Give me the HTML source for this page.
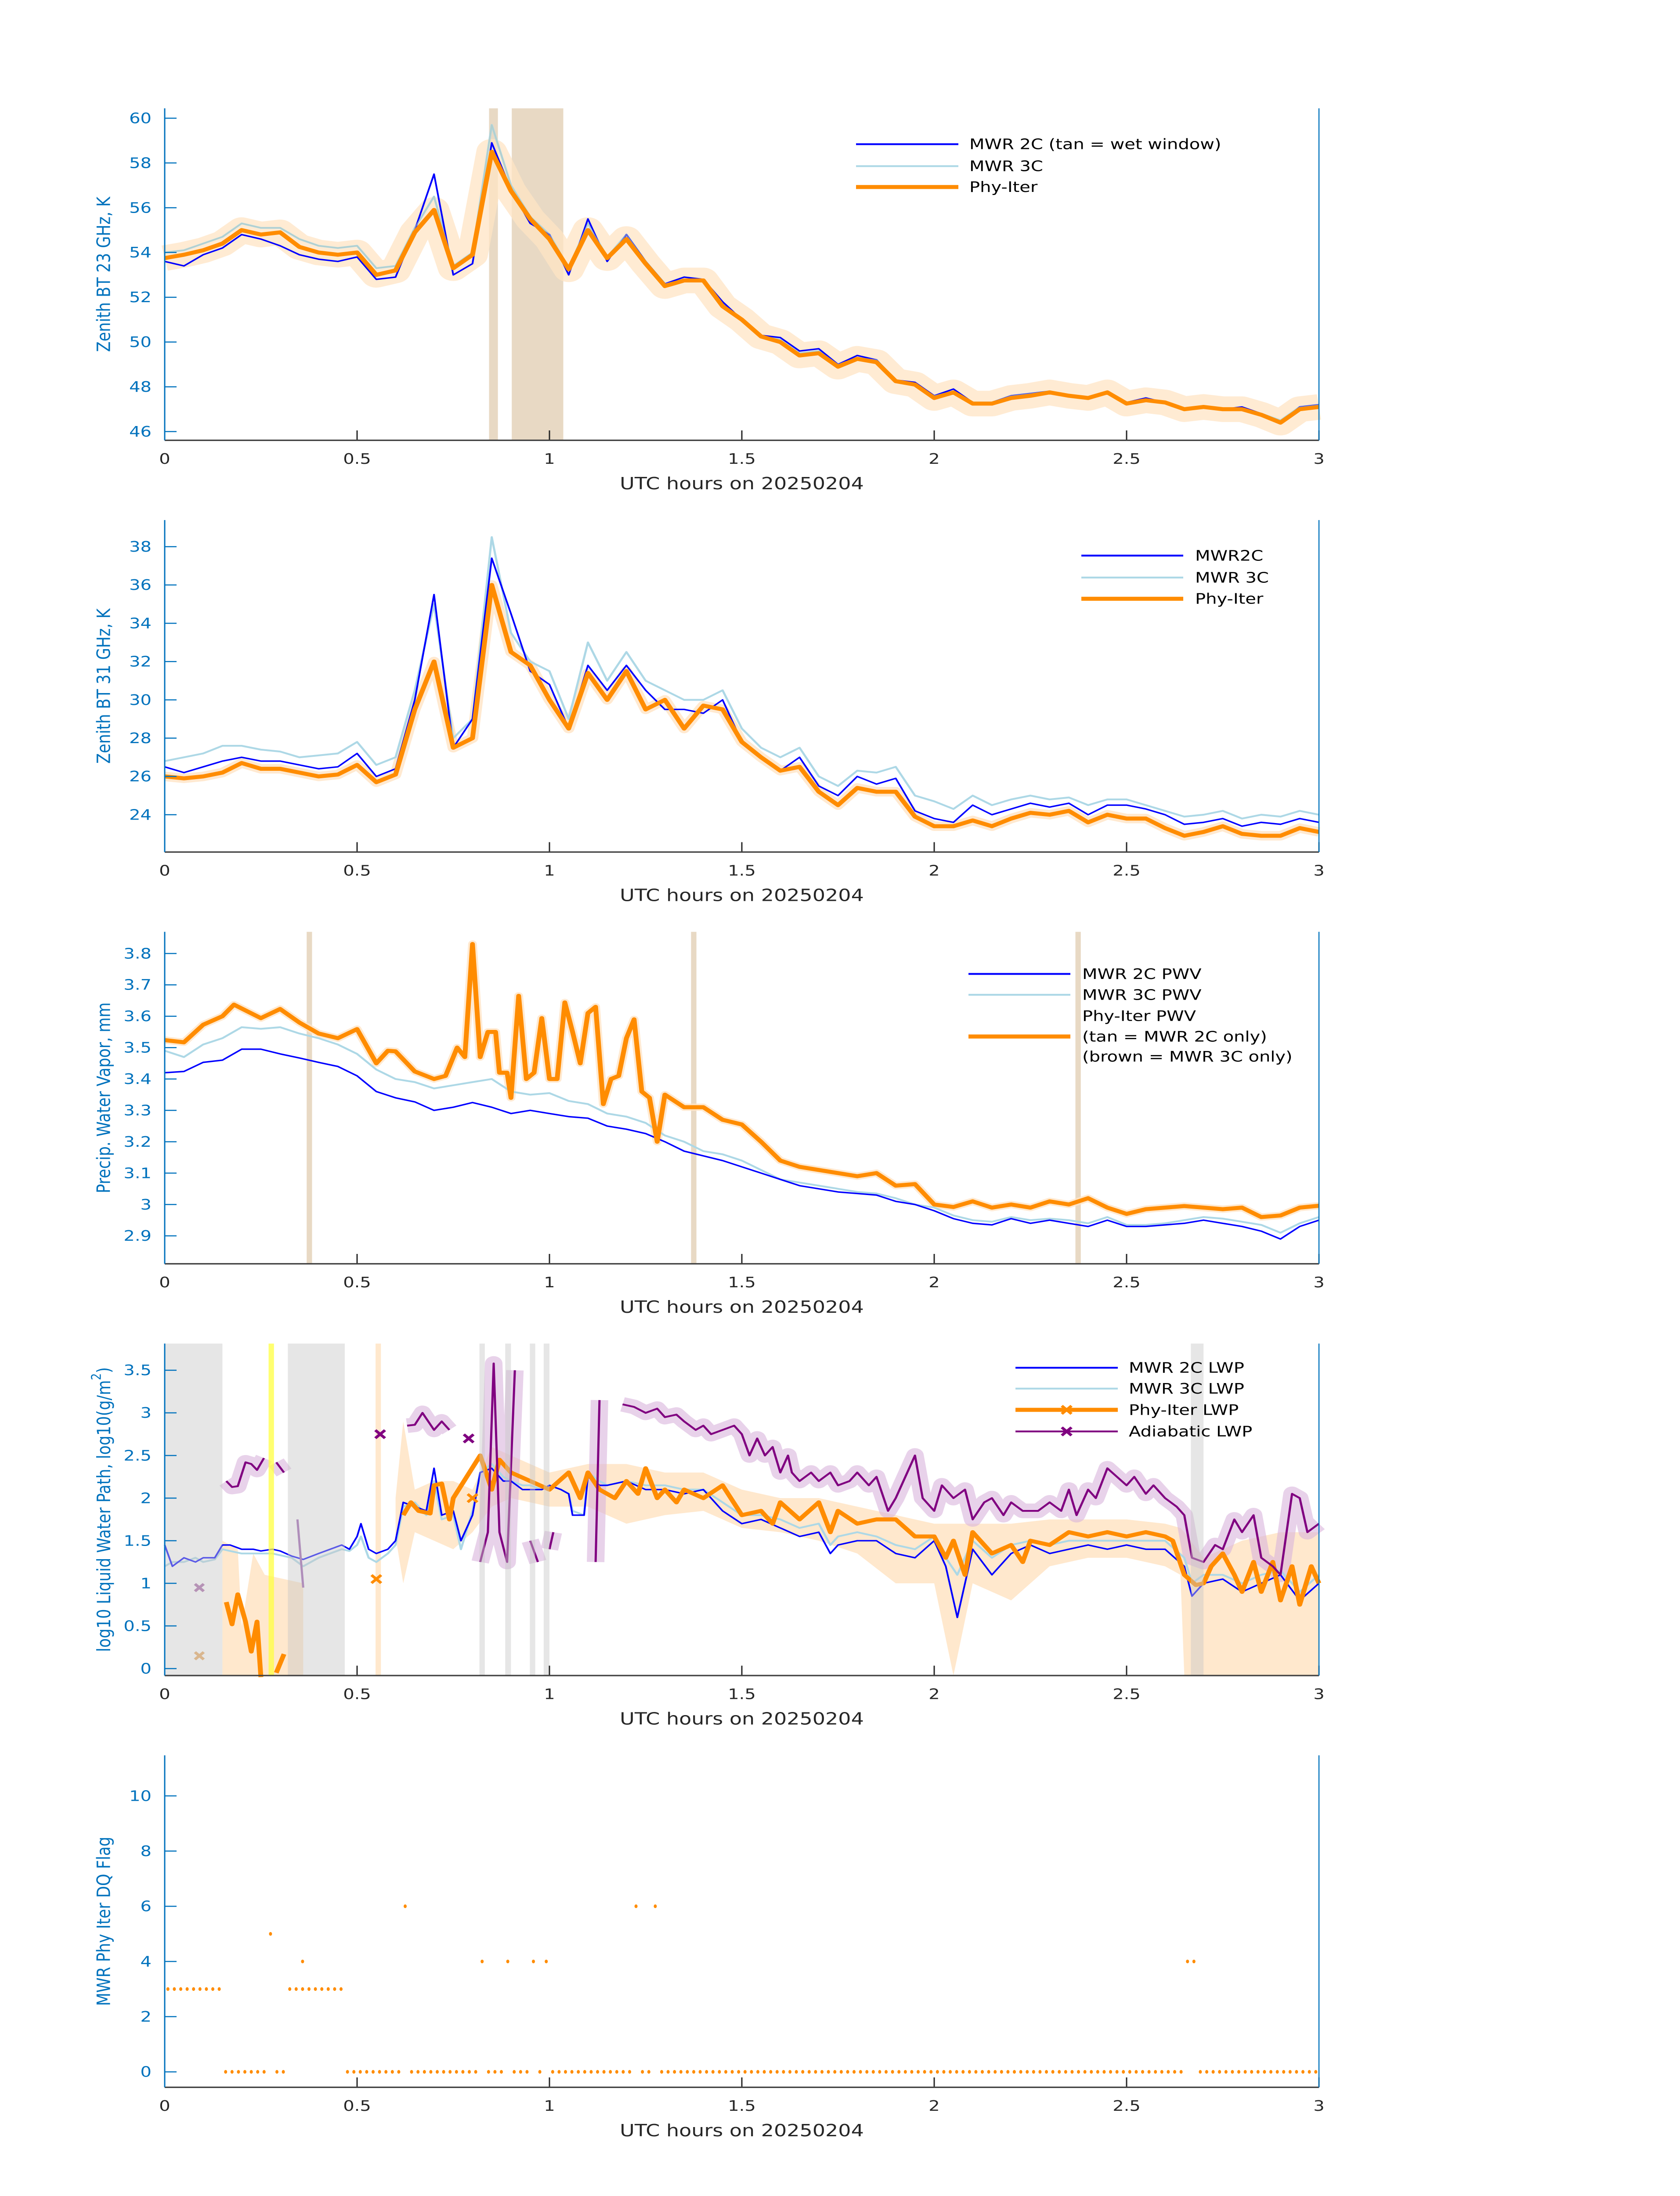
<!DOCTYPE html>
<html><head><meta charset="utf-8">
<style>
html,body{margin:0;padding:0;background:#fff;width:100vw;height:100vh;overflow:hidden;}
svg{display:block;position:absolute;left:0;top:0;width:100vw;height:100vh;}
text{font-family:"DejaVu Sans","Liberation Sans",sans-serif;}
</style></head>
<body>
<svg id="fig" xmlns="http://www.w3.org/2000/svg" viewBox="0 0 3825 6000" preserveAspectRatio="none">
<rect x="0" y="0" width="3825" height="6000" fill="#fff"/>
</svg>
<script>
// ---------- shared x ----------
const xTicks = [0, 0.5, 1, 1.5, 2, 2.5, 3];
const xTickLabels = ["0", "0.5", "1", "1.5", "2", "2.5", "3"];
const t05 = [0,0.05,0.1,0.15,0.2,0.25,0.3,0.35,0.4,0.45,0.5,0.55,0.6,0.65,0.7,0.75,0.8,0.85,0.9,0.95,1,1.05,1.1,1.15,1.2,1.25,1.3,1.35,1.4,1.45,1.5,1.55,1.6,1.65,1.7,1.75,1.8,1.85,1.9,1.95,2,2.05,2.1,2.15,2.2,2.25,2.3,2.35,2.4,2.45,2.5,2.55,2.6,2.65,2.7,2.75,2.8,2.85,2.9,2.95,3];

// ---------- panel 1: BT 23 GHz ----------
const p1Ticks = [46,48,50,52,54,56,58,60];
const p1Blue = [53.6,53.4,53.9,54.2,54.8,54.6,54.3,53.9,53.7,53.6,53.8,52.8,52.9,55.0,57.5,53.0,53.5,58.9,56.8,55.3,54.8,53.0,55.5,53.6,54.8,53.6,52.6,52.9,52.8,51.8,51.0,50.3,50.2,49.6,49.7,49.0,49.4,49.2,48.3,48.2,47.6,47.9,47.3,47.3,47.6,47.7,47.8,47.6,47.5,47.8,47.3,47.5,47.3,47.0,47.1,47.0,47.1,46.8,46.4,47.1,47.2];
const p13C = [54.0,54.1,54.4,54.7,55.3,55.1,55.1,54.6,54.3,54.2,54.3,53.3,53.4,55.1,56.5,53.4,54.0,59.7,57.0,55.6,54.8,53.3,55.3,53.8,54.8,53.6,52.6,52.8,52.8,51.7,51.0,50.3,50.1,49.5,49.6,49.0,49.3,49.2,48.3,48.1,47.6,47.8,47.3,47.3,47.6,47.7,47.8,47.6,47.5,47.7,47.3,47.4,47.3,47.0,47.1,47.0,47.0,46.8,46.5,47.1,47.2];
const p1Phy = [53.75,53.9,54.1,54.4,55.0,54.8,54.9,54.25,54.0,53.9,54.0,53.0,53.2,54.9,55.9,53.3,53.9,58.5,56.75,55.5,54.6,53.25,55.0,53.75,54.6,53.5,52.5,52.75,52.75,51.6,51.0,50.25,50.0,49.4,49.5,48.9,49.25,49.1,48.25,48.1,47.5,47.75,47.25,47.25,47.5,47.6,47.75,47.6,47.5,47.75,47.25,47.4,47.3,47.0,47.1,47.0,47.0,46.75,46.4,47.0,47.1];
const p1WetStart = [0.843, 0.902];
const p1WetEnd = [0.866, 1.036];

// ---------- panel 2: BT 31 GHz ----------
const p2Ticks = [24,26,28,30,32,34,36,38];
const p2Blue = [26.5,26.2,26.5,26.8,27.0,26.8,26.8,26.6,26.4,26.5,27.2,26.0,26.4,30.0,35.5,27.5,29.0,37.4,34.5,31.5,30.8,28.5,31.8,30.5,31.8,30.5,29.5,29.5,29.3,30.0,27.8,27.0,26.3,27.0,25.5,25.0,26.0,25.6,25.9,24.2,23.8,23.6,24.5,24.0,24.3,24.6,24.4,24.6,24.0,24.5,24.5,24.3,24.0,23.5,23.6,23.8,23.4,23.6,23.5,23.8,23.6];
const p23C = [26.8,27.0,27.2,27.6,27.6,27.4,27.3,27.0,27.1,27.2,27.8,26.6,27.0,30.5,35.0,28.0,29.0,38.5,33.5,32.0,31.5,29.0,33.0,31.0,32.5,31.0,30.5,30.0,30.0,30.5,28.5,27.5,27.0,27.5,26.0,25.5,26.3,26.2,26.5,25.0,24.7,24.3,25.0,24.5,24.8,25.0,24.8,24.9,24.5,24.8,24.8,24.5,24.2,23.9,24.0,24.2,23.8,24.0,23.9,24.2,24.0];
const p2Phy = [26.0,25.9,26.0,26.2,26.7,26.4,26.4,26.2,26.0,26.1,26.6,25.7,26.1,29.5,32.0,27.5,28.0,36.0,32.5,31.8,30.0,28.5,31.4,30.0,31.5,29.5,30.0,28.5,29.7,29.5,27.8,27.0,26.3,26.5,25.2,24.5,25.4,25.2,25.2,23.9,23.4,23.4,23.7,23.4,23.8,24.1,24.0,24.2,23.6,24.0,23.8,23.8,23.3,22.9,23.1,23.4,23.0,22.9,22.9,23.3,23.1];

// ---------- panel 3: PWV ----------
const p3Ticks = [2.9,3,3.1,3.2,3.3,3.4,3.5,3.6,3.7,3.8];
const p3TickLabels = ["2.9","3","3.1","3.2","3.3","3.4","3.5","3.6","3.7","3.8"];
const p3Blue = [3.42,3.424,3.453,3.46,3.495,3.495,3.48,3.467,3.453,3.44,3.41,3.36,3.34,3.327,3.30,3.31,3.325,3.31,3.29,3.30,3.29,3.28,3.275,3.25,3.24,3.226,3.20,3.17,3.155,3.14,3.12,3.10,3.08,3.06,3.05,3.04,3.035,3.03,3.01,3.0,2.98,2.955,2.94,2.935,2.955,2.94,2.95,2.94,2.93,2.95,2.93,2.93,2.935,2.94,2.95,2.94,2.93,2.915,2.89,2.93,2.95];
const p33C = [3.49,3.47,3.51,3.53,3.565,3.56,3.565,3.545,3.53,3.51,3.48,3.43,3.40,3.39,3.37,3.38,3.39,3.40,3.36,3.35,3.355,3.33,3.32,3.29,3.28,3.26,3.22,3.20,3.17,3.16,3.14,3.11,3.08,3.07,3.06,3.05,3.04,3.035,3.02,3.00,2.99,2.965,2.95,2.945,2.96,2.95,2.955,2.95,2.94,2.96,2.935,2.935,2.94,2.95,2.96,2.955,2.945,2.935,2.91,2.94,2.96];
const p3PhyT = [0,0.05,0.1,0.15,0.18,0.25,0.3,0.35,0.4,0.45,0.5,0.55,0.58,0.6,0.65,0.7,0.73,0.76,0.78,0.8,0.82,0.84,0.86,0.87,0.89,0.9,0.92,0.94,0.96,0.98,1.0,1.02,1.04,1.06,1.08,1.1,1.12,1.14,1.16,1.18,1.2,1.22,1.24,1.26,1.28,1.3,1.35,1.4,1.45,1.5,1.55,1.6,1.65,1.7,1.75,1.8,1.85,1.9,1.95,2.0,2.05,2.1,2.15,2.2,2.25,2.3,2.35,2.4,2.45,2.5,2.55,2.6,2.65,2.7,2.75,2.8,2.85,2.9,2.95,3.0];
const p3PhyV = [3.524,3.517,3.573,3.60,3.637,3.594,3.623,3.58,3.545,3.53,3.559,3.45,3.49,3.488,3.424,3.40,3.41,3.50,3.47,3.83,3.47,3.55,3.55,3.42,3.42,3.34,3.665,3.40,3.42,3.594,3.40,3.40,3.644,3.55,3.45,3.61,3.63,3.32,3.40,3.41,3.53,3.59,3.36,3.34,3.20,3.35,3.31,3.31,3.27,3.255,3.20,3.14,3.12,3.11,3.10,3.09,3.10,3.06,3.065,3.00,2.992,3.01,2.99,3.0,2.99,3.01,3.0,3.02,2.99,2.97,2.985,2.99,2.995,2.99,2.985,2.99,2.96,2.965,2.99,2.996];
const p3BarT = [0.376, 1.375, 2.374];

// ---------- panel 4: LWP ----------
const p4Ticks = [0,0.5,1,1.5,2,2.5,3,3.5];
const p4TickLabels = ["0","0.5","1","1.5","2","2.5","3","3.5"];
const p4T = [0,0.02,0.05,0.08,0.1,0.13,0.15,0.17,0.2,0.23,0.25,0.28,0.3,0.33,0.36,0.4,0.43,0.46,0.48,0.5,0.51,0.53,0.55,0.58,0.6,0.62,0.65,0.68,0.7,0.72,0.75,0.77,0.8,0.82,0.85,0.88,0.9,0.93,0.95,0.98,1.0,1.03,1.05,1.06,1.09,1.1,1.13,1.15,1.2,1.25,1.3,1.35,1.4,1.45,1.5,1.55,1.6,1.65,1.7,1.73,1.75,1.8,1.85,1.9,1.95,2.0,2.03,2.06,2.1,2.15,2.2,2.25,2.3,2.35,2.4,2.45,2.5,2.55,2.6,2.65,2.67,2.7,2.75,2.8,2.85,2.9,2.95,3.0];
const p4Blue = [1.45,1.2,1.3,1.25,1.3,1.3,1.45,1.45,1.4,1.4,1.38,1.4,1.38,1.32,1.28,1.35,1.4,1.45,1.4,1.55,1.7,1.4,1.35,1.4,1.5,1.95,1.9,1.85,2.35,1.8,1.85,1.5,1.8,2.3,2.35,2.2,2.2,2.1,2.1,2.1,2.15,2.1,2.05,1.8,1.8,2.25,2.15,2.15,2.2,2.1,2.1,2.05,2.1,1.85,1.7,1.75,1.65,1.55,1.6,1.35,1.45,1.5,1.5,1.35,1.3,1.5,1.2,0.6,1.4,1.1,1.35,1.45,1.35,1.4,1.45,1.4,1.45,1.4,1.4,1.2,0.85,1.0,1.05,0.9,1.0,1.1,0.8,1.0];
const p43C = [1.2,1.25,1.25,1.3,1.25,1.28,1.4,1.38,1.35,1.35,1.35,1.35,1.33,1.3,1.2,1.3,1.35,1.4,1.38,1.45,1.55,1.3,1.25,1.35,1.45,1.9,1.95,1.8,2.2,1.75,1.8,1.4,1.85,2.3,2.4,2.25,2.2,2.15,2.15,2.1,2.15,2.1,2.05,1.85,1.8,2.3,2.2,2.15,2.2,2.15,2.15,2.1,2.1,1.95,1.8,1.8,1.75,1.65,1.7,1.45,1.55,1.6,1.55,1.45,1.4,1.55,1.3,1.1,1.5,1.3,1.45,1.5,1.45,1.5,1.5,1.5,1.5,1.5,1.5,1.3,1.0,1.1,1.1,1.0,1.1,1.15,0.9,1.1];
const p4PhyT = [0.16,0.175,0.19,0.21,0.225,0.24,0.25,0.26,0.29,0.31,0.5,0.62,0.64,0.66,0.69,0.7,0.72,0.74,0.75,0.82,0.85,0.87,0.9,0.95,1.0,1.05,1.08,1.1,1.13,1.17,1.2,1.23,1.25,1.28,1.3,1.33,1.35,1.4,1.45,1.5,1.55,1.58,1.6,1.65,1.7,1.73,1.75,1.8,1.85,1.9,1.95,2.0,2.03,2.05,2.08,2.1,2.15,2.2,2.23,2.25,2.3,2.35,2.4,2.45,2.5,2.55,2.6,2.62,2.65,2.68,2.7,2.72,2.75,2.78,2.8,2.83,2.85,2.88,2.9,2.93,2.95,2.98,3.0];
const p4PhyV = [0.78,0.52,0.87,0.55,0.2,0.55,-0.1,null,-0.05,0.17,null,1.8,1.95,1.85,1.82,2.15,2.17,1.75,2.0,2.5,2.1,2.45,2.3,2.2,2.1,2.3,2.0,2.3,2.1,2.0,2.2,2.05,2.35,2.0,2.1,1.95,2.1,2.0,2.15,1.8,1.85,1.7,1.95,1.75,1.95,1.6,1.85,1.7,1.75,1.75,1.55,1.55,1.3,1.5,1.1,1.6,1.35,1.45,1.25,1.5,1.45,1.6,1.55,1.6,1.55,1.6,1.55,1.5,1.1,0.98,1.0,1.2,1.35,1.1,0.9,1.25,0.9,1.25,0.8,1.2,0.75,1.2,1.0];
const p4PhyBandT = [0.6,0.62,0.65,0.7,0.75,0.8,0.85,0.9,1.0,1.1,1.2,1.3,1.4,1.5,1.6,1.7,1.8,1.9,2.0,2.05,2.1,2.2,2.3,2.4,2.5,2.6,2.64,2.65,2.7,2.8,2.9,3.0];
const p4PhyBandLo = [1.55,1.0,1.6,1.5,1.4,1.6,1.9,2.0,1.9,1.9,1.7,1.8,1.85,1.65,1.6,1.5,1.35,1.0,1.0,-0.1,1.0,0.8,1.2,1.3,1.3,1.2,1.1,-0.1,-0.1,-0.1,-0.1,-0.1];
const p4PhyBandHi = [2.0,2.9,2.1,2.2,2.2,2.1,2.6,2.5,2.3,2.4,2.4,2.3,2.3,2.1,2.0,2.0,1.9,1.8,1.7,1.7,1.7,1.7,1.75,1.75,1.75,1.7,1.65,1.6,1.3,1.5,1.6,1.6];
const p4AdiT = [0.16,0.175,0.19,0.21,0.225,0.24,0.258,0.27,0.29,0.31,0.5,0.63,0.65,0.67,0.7,0.72,0.74,0.76,0.82,0.84,0.855,0.87,0.89,0.91,0.93,0.95,0.97,0.98,1.0,1.01,1.05,1.12,1.13,1.15,1.19,1.22,1.25,1.28,1.3,1.33,1.35,1.38,1.4,1.42,1.45,1.48,1.5,1.52,1.54,1.56,1.58,1.6,1.62,1.63,1.65,1.68,1.7,1.73,1.75,1.78,1.8,1.83,1.85,1.88,1.9,1.95,1.97,2.0,2.02,2.05,2.08,2.1,2.13,2.15,2.18,2.2,2.23,2.27,2.3,2.33,2.35,2.37,2.4,2.42,2.45,2.5,2.52,2.55,2.57,2.6,2.63,2.65,2.67,2.7,2.73,2.75,2.78,2.8,2.83,2.85,2.88,2.9,2.93,2.95,2.97,3.0];
const p4AdiV = [2.2,2.13,2.14,2.42,2.4,2.33,2.47,null,2.42,2.3,null,2.85,2.86,3.0,2.8,2.9,2.8,null,1.25,1.6,3.58,1.6,1.25,3.5,null,1.5,1.25,null,1.4,1.6,null,1.25,3.15,null,3.1,3.07,3.0,3.05,2.95,2.98,2.9,2.8,2.85,2.75,2.8,2.85,2.75,2.5,2.7,2.5,2.6,2.3,2.5,2.3,2.2,2.3,2.2,2.3,2.15,2.2,2.3,2.15,2.25,1.85,2.0,2.5,2.0,1.85,2.15,2.0,2.1,1.75,1.95,2.0,1.8,1.95,1.85,1.85,1.95,1.85,2.1,1.8,2.1,2.0,2.35,2.15,2.25,2.05,2.15,2.0,1.9,1.8,1.3,1.25,1.45,1.4,1.75,1.6,1.8,1.3,1.2,1.1,2.05,2.0,1.6,1.7];
const p4PhyMarkT = [0.55, 0.8];
const p4PhyMarkV = [1.05, 2.0];
const p4AdiMarkT = [0.56, 0.79];
const p4AdiMarkV = [2.75, 2.7];
const p4GrayStart = [0, 0.32, 0.818, 0.885, 0.949, 0.985, 2.667];
const p4GrayEnd = [0.15, 0.468, 0.832, 0.9, 0.963, 1.0, 2.70];

// ---------- panel 5: DQ flag (1-minute samples) ----------
const p5Ticks = [0,2,4,6,8,10];
const p5Flags = [3,3,3,3,3,3,3,3,3,0,0,0,0,0,0,0,5,0,0,3,3,3,3,3,3,3,3,3,0,0,0,0,0,0,0,0,0,6,0,0,0,0,0,0,0,0,0,0,0,4,0,0,0,4,0,0,0,4,0,4,0,0,0,0,0,0,0,0,0,0,0,0,0,6,0,0,6,0,0,0,0,0,0,0,0,0,0,0,0,0,0,0,0,0,0,0,0,0,0,0,0,0,0,0,0,0,0,0,0,0,0,0,0,0,0,0,0,0,0,0,0,0,0,0,0,0,0,0,0,0,0,0,0,0,0,0,0,0,0,0,0,0,0,0,0,0,0,0,0,0,0,0,0,0,0,0,0,0,0,4,4,0,0,0,0,0,0,0,0,0,0,0,0,0,0,0,0,0,0,0];
const p5ExtraT = [21.5/60];
const p5ExtraV = [4];

// ---------- geometry ----------
const SVGNS = "http://www.w3.org/2000/svg";
const svg = document.getElementById('fig');
const AX_L = 375, AX_R = 3003, AX_H = 907;
const BLUE_AX = "#0072BD", DARK = "#262626";
function X(t){ return AX_L + t * (AX_R - AX_L) / 3; }
function mk(tag, attrs, parent){
  const e = document.createElementNS(SVGNS, tag);
  for (const k in attrs) e.setAttribute(k, attrs[k]);
  (parent || svg).appendChild(e);
  return e;
}
function makeY(top, ymin, ymax){ return v => top + AX_H - (v - ymin) / (ymax - ymin) * AX_H; }
function pathFrom(ts, vs, Y){
  let d = "", pen = false;
  for (let i = 0; i < ts.length; i++){
    if (vs[i] === null || vs[i] === undefined){ pen = false; continue; }
    d += (pen ? "L" : "M") + X(ts[i]).toFixed(1) + "," + Y(vs[i]).toFixed(1);
    pen = true;
  }
  return d;
}
function line(g, ts, vs, Y, color, w, name, op){
  const p = mk('path', {d: pathFrom(ts, vs, Y), fill: 'none', stroke: color, 'stroke-width': w, 'stroke-linejoin': 'round', 'stroke-linecap': 'butt', opacity: op || 1}, g);
  
  
  return p;
}
function vband(g, t0, t1, top, color, op, name){
  const r = mk('rect', {x: X(t0), y: top, width: X(t1) - X(t0), height: AX_H, fill: color, opacity: op}, g);
  
  
}
function xmark(g, cx, cy, color, s, name, op){
  const p = mk('path', {d: `M${cx-s},${cy-s}L${cx+s},${cy+s}M${cx-s},${cy+s}L${cx+s},${cy-s}`, stroke: color, 'stroke-width': 7, fill: 'none', opacity: op || 1}, g);
  
  
}
function axes(k, top, Y, ticks, labels, ylabel){
  const g = mk('g', {});
  
  
  const bot = top + AX_H;
  ticks.forEach((v, i) => {
    const yy = Y(v);
    const tl = mk('line', {x1: AX_L, x2: AX_L + 27, y1: yy, y2: yy, stroke: BLUE_AX, 'stroke-width': 3}, g);
    
    
    const tx = mk('text', {x: 345, y: yy, 'font-size': 40, fill: BLUE_AX, 'text-anchor': 'end', 'dominant-baseline': 'central'}, g);
    tx.textContent = labels ? labels[i] : String(v);
    
    
  });
  xTicks.forEach((t, i) => {
    const tl = mk('line', {x1: X(t), x2: X(t), y1: bot, y2: bot - 27, stroke: DARK, 'stroke-width': 3}, g);
    
    
    const tx = mk('text', {x: X(t), y: bot + 64, 'font-size': 40, fill: DARK, 'text-anchor': 'middle'}, g);
    tx.textContent = xTickLabels[i];
    
    
  });
  const bl = mk('line', {x1: AX_L, x2: AX_R, y1: bot, y2: bot, stroke: '#404040', 'stroke-width': 4}, g);
  
  
  const ll = mk('line', {x1: AX_L, x2: AX_L, y1: top, y2: bot, stroke: BLUE_AX, 'stroke-width': 3}, g);
  
  
  const rl = mk('line', {x1: AX_R, x2: AX_R, y1: top, y2: bot, stroke: BLUE_AX, 'stroke-width': 2.5}, g);
  
  
  const xl = mk('text', {x: (AX_L + AX_R) / 2, y: bot + 134, 'font-size': 46, fill: DARK, 'text-anchor': 'middle'}, g);
  xl.textContent = "UTC hours on 20250204";
  
  
  const yl = mk('text', {x: 0, y: 0, 'font-size': 42, fill: BLUE_AX, 'text-anchor': 'middle', 'dominant-baseline': 'central', transform: `translate(237,${top + AX_H/2}) rotate(-90)`}, g);
  if (Array.isArray(ylabel)){
    const a = mk('tspan', {}, yl); a.textContent = ylabel[0];
    const b = mk('tspan', {'baseline-shift': 'super', 'font-size': 30}, yl); b.textContent = ylabel[1];
    const c = mk('tspan', {}, yl); c.textContent = ylabel[2];
  } else yl.textContent = ylabel;
  
  
}
function legend(k, x0, x1, tx, rows){
  const g = mk('g', {});
  
  
  rows.forEach(r => {
    if (r.color){
      const l = mk('line', {x1: x0, x2: x1, y1: r.ly, y2: r.ly, stroke: r.color, 'stroke-width': r.w}, g);
      
      
      if (r.mark) xmark(g, (x0 + x1) / 2, r.ly, r.color, 11, 'legend-marker');
    }
    if (r.text){
      const t = mk('text', {x: tx, y: r.ty, 'font-size': 40, fill: '#000', 'dominant-baseline': 'central'}, g);
      t.textContent = r.text;
      
      
    }
  });
}

// ===== Panel 1 =====
(function(){
  const top = 296, Y = makeY(top, 45.61, 60.44);
  const g = mk('g', {});  
  p1WetStart.forEach((s, i) => vband(g, s, p1WetEnd[i], top, '#E8D9C4', 1, 'wet-window'));
  line(g, t05, p1Phy, Y, '#FFE4C4', 70, 'phy-iter-uncertainty', 0.75);
  line(g, t05, p13C, Y, '#ADD8E6', 5, 'mwr-3c-line');
  line(g, t05, p1Blue, Y, '#0000FF', 4, 'mwr-2c-line');
  line(g, t05, p13C, Y, '#B8C9BC', 3, 'mwr-3c-overlay', 0.6);
  line(g, t05, p1Phy, Y, '#FF8C00', 11, 'phy-iter-line');
  axes(1, top, Y, p1Ticks, null, "Zenith BT 23 GHz, K");
  legend(1, 1949, 2182, 2207, [
    {color:'#0000FF', w:5, ly:394, ty:394, text:'MWR 2C (tan = wet window)'},
    {color:'#ADD8E6', w:5, ly:454, ty:454, text:'MWR 3C'},
    {color:'#FF8C00', w:11, ly:511, ty:511, text:'Phy-Iter'}]);
})();

// ===== Panel 2 =====
(function(){
  const top = 1421, Y = makeY(top, 22.05, 39.39);
  const g = mk('g', {});  
  line(g, t05, p2Phy, Y, '#FFE4C4', 26, 'phy-iter-uncertainty', 0.8);
  line(g, t05, p23C, Y, '#ADD8E6', 5, 'mwr-3c-line');
  line(g, t05, p2Blue, Y, '#0000FF', 4, 'mwr-2c-line');
  line(g, t05, p2Phy, Y, '#FF8C00', 11, 'phy-iter-line');
  axes(2, top, Y, p2Ticks, null, "Zenith BT 31 GHz, K");
  legend(2, 2462, 2694, 2721, [
    {color:'#0000FF', w:5, ly:1518, ty:1518, text:'MWR2C'},
    {color:'#ADD8E6', w:5, ly:1578, ty:1578, text:'MWR 3C'},
    {color:'#FF8C00', w:11, ly:1636, ty:1636, text:'Phy-Iter'}]);
})();

// ===== Panel 3 =====
(function(){
  const top = 2546, Y = makeY(top, 2.811, 3.869);
  const g = mk('g', {});  
  p3BarT.forEach(t => vband(g, t - 0.007, t + 0.007, top, '#E8D9C4', 1, 'mwr-2c-only-bar'));
  line(g, p3PhyT, p3PhyV, Y, '#FFE4C4', 20, 'phy-iter-uncertainty', 0.8);
  line(g, t05, p33C, Y, '#ADD8E6', 5, 'mwr-3c-line');
  line(g, t05, p3Blue, Y, '#0000FF', 4, 'mwr-2c-line');
  line(g, p3PhyT, p3PhyV, Y, '#FF8C00', 11, 'phy-iter-line');
  axes(3, top, Y, p3Ticks, p3TickLabels, "Precip. Water Vapor, mm");
  legend(3, 2205, 2437, 2464, [
    {color:'#0000FF', w:5, ly:2661, ty:2661, text:'MWR 2C PWV'},
    {color:'#ADD8E6', w:5, ly:2718, ty:2718, text:'MWR 3C PWV'},
    {ty:2776, text:'Phy-Iter PWV'},
    {color:'#FF8C00', w:11, ly:2832, ty:2832, text:'(tan = MWR 2C only)'},
    {ty:2887, text:'(brown = MWR 3C only)'}]);
})();

// ===== Panel 4 =====
(function(){
  const top = 3671, Y = makeY(top, -0.082, 3.813);
  const g = mk('g', {});  
  let d = "";
  for (let i = 0; i < p4PhyBandT.length; i++) d += (i ? "L" : "M") + X(p4PhyBandT[i]) + "," + Y(p4PhyBandHi[i]);
  for (let i = p4PhyBandT.length - 1; i >= 0; i--) d += "L" + X(p4PhyBandT[i]) + "," + Y(Math.max(p4PhyBandLo[i], -0.082));
  const band = mk('path', {d: d + "Z", fill: '#FFE4C4', opacity: 0.85}, g);
  
  
  const early = mk('path', {d: `M${X(0.15)},${Y(1.5)}L${X(0.19)},${Y(1.4)}L${X(0.2)},${Y(0.5)}L${X(0.23)},${Y(1.35)}L${X(0.26)},${Y(1.1)}L${X(0.36)},${Y(1.0)}L${X(0.36)},${Y(-0.082)}L${X(0.15)},${Y(-0.082)}Z`, fill: '#FFE4C4', opacity: 0.85}, g);
  
  
  vband(g, 0.548, 0.562, top, '#FFE4C4', 0.85, 'phy-iter-uncertainty-point');
  line(g, p4AdiT, p4AdiV, Y, '#D8B4DC', 40, 'adiabatic-uncertainty', 0.6);
  line(g, p4T, p43C, Y, '#ADD8E6', 5, 'mwr-3c-line');
  line(g, p4T, p4Blue, Y, '#0000FF', 4, 'mwr-2c-line');
  line(g, p4PhyT, p4PhyV, Y, '#FF8C00', 11, 'phy-iter-line');
  line(g, p4AdiT, p4AdiV, Y, '#800080', 5, 'adiabatic-line');
  line(g, [0.345, 0.36], [1.75, 0.95], Y, '#9C5FB0', 5, 'adiabatic-faded-segment');
  p4PhyMarkT.forEach((t, i) => xmark(g, X(t), Y(p4PhyMarkV[i]), '#FF8C00', 11, 'phy-iter-marker'));
  p4AdiMarkT.forEach((t, i) => xmark(g, X(t), Y(p4AdiMarkV[i]), '#800080', 11, 'adiabatic-marker'));
  xmark(g, X(0.09), Y(0.15), '#E8A860', 10, 'phy-iter-marker-faded');
  xmark(g, X(0.09), Y(0.95), '#A868A8', 10, 'adiabatic-marker-faded');
  p4GrayStart.forEach((s, i) => vband(g, s, p4GrayEnd[i], top, '#C8C8C8', 0.45, 'masked-region'));
  vband(g, 0.27, 0.284, top, '#FFFF40', 0.75, 'highlight-band');
  axes(4, top, Y, p4Ticks, p4TickLabels, ["log10 Liquid Water Path, log10(g/m", "2", ")"]);
  legend(4, 2312, 2545, 2570, [
    {color:'#0000FF', w:5, ly:3737, ty:3737, text:'MWR 2C LWP'},
    {color:'#ADD8E6', w:5, ly:3794, ty:3794, text:'MWR 3C LWP'},
    {color:'#FF8C00', w:11, ly:3852, ty:3852, text:'Phy-Iter LWP', mark:true},
    {color:'#800080', w:5, ly:3911, ty:3911, text:'Adiabatic LWP', mark:true}]);
})();

// ===== Panel 5 =====
(function(){
  const top = 4796, Y = makeY(top, -0.56, 11.47);
  const g = mk('g', {});  
  p5Flags.forEach((f, k) => {
    const e = mk('ellipse', {cx: X((k + 0.5) / 60), cy: Y(f), rx: 3.5, ry: 5, fill: '#FF8C00'}, g);
    
    
  });
  p5ExtraT.forEach((t, i) => {
    const e = mk('ellipse', {cx: X(t), cy: Y(p5ExtraV[i]), rx: 3.5, ry: 5, fill: '#FF8C00'}, g);
    
    
  });
  axes(5, top, Y, p5Ticks, null, "MWR Phy Iter DQ Flag");
})();
</script>
</body></html>
